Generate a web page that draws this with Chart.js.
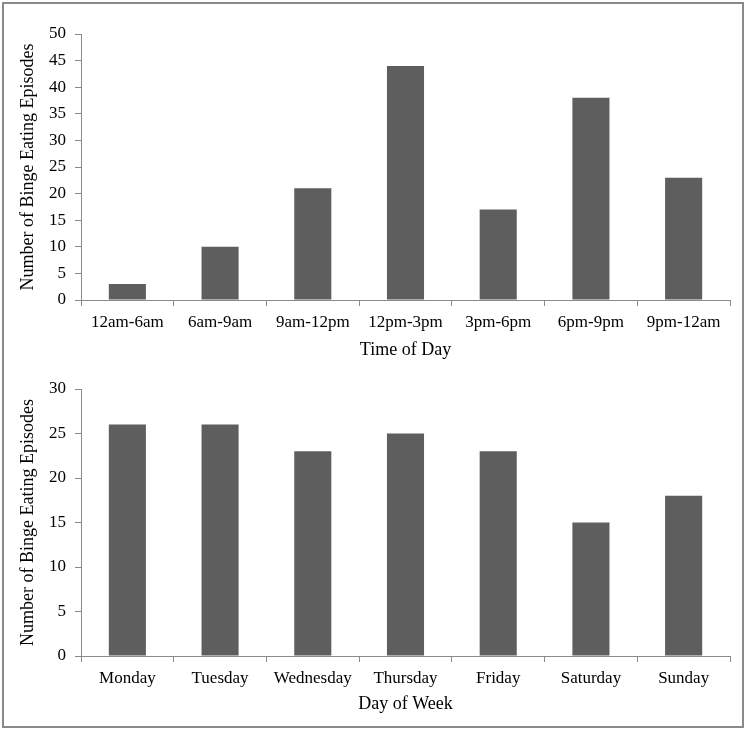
<!DOCTYPE html>
<html>
<head>
<meta charset="utf-8">
<script src="https://cdn.jsdelivr.net/npm/chart.js@4"></script>
<style>
  html, body { margin: 0; padding: 0; background: #fff; }
  body { width: 750px; height: 729px; position: relative; overflow: hidden; }
  #frame { position: absolute; left: 2px; top: 2px; width: 738px; height: 722px; border: 2px solid #8a8a8a; }
  canvas { position: absolute; left: 0; }
  #time-chart { top: 0; }
  #day-chart { top: 365px; }
</style>
</head>
<body>
<div id="frame"></div>
<canvas id="time-chart" width="750" height="365"></canvas>
<canvas id="day-chart" width="750" height="364"></canvas>
<script>
  var timeLabels = ['12am-6am', '6am-9am', '9am-12pm', '12pm-3pm', '3pm-6pm', '6pm-9pm', '9pm-12am'];
  var timeValues = [3, 10, 21, 44, 17, 38, 23];
  var timeTicks = { min: 0, max: 50, step: 5 };

  var dayLabels = ['Monday', 'Tuesday', 'Wednesday', 'Thursday', 'Friday', 'Saturday', 'Sunday'];
  var dayValues = [26, 26, 23, 25, 23, 15, 18];
  var dayTicks = { min: 0, max: 30, step: 5 };

  var yTitle = 'Number of Binge Eating Episodes';
  var axisGray = '#8a8a8a';
  var barGray = '#5e5e5e';
  var serif = 'Liberation Serif';

  function makeChart(id, labels, values, ticks, xTitle, pad, titleBottom) {
    var ctx = document.getElementById(id).getContext('2d');
    return new Chart(ctx, {
      type: 'bar',
      data: {
        labels: labels,
        datasets: [{
          data: values,
          backgroundColor: barGray,
          barPercentage: 0.4,
          categoryPercentage: 1.0
        }]
      },
      options: {
        responsive: false,
        animation: false,
        layout: { padding: pad },
        plugins: { legend: { display: false }, tooltip: { enabled: false } },
        scales: {
          x: {
            grid: { offset: true, drawOnChartArea: false, tickLength: 6, color: axisGray },
            border: { color: axisGray, width: 1 },
            ticks: { color: '#000', padding: 6, maxRotation: 0, font: { family: serif, size: 17 } },
            title: { display: true, text: xTitle, color: '#000', padding: { top: 0, bottom: titleBottom }, font: { family: serif, size: 18 } },
            afterFit: function (s) { s.height = 65; }
          },
          y: {
            min: ticks.min,
            max: ticks.max,
            grid: { drawOnChartArea: false, tickLength: 6, color: axisGray },
            border: { color: axisGray, width: 1 },
            ticks: { stepSize: ticks.step, color: '#000', padding: 9, font: { family: serif, size: 17 } },
            title: { display: true, text: yTitle, color: '#000', padding: { top: 17, bottom: 0 }, font: { family: serif, size: 18 } },
            afterFit: function (s) { s.width = 81; }
          }
        }
      }
    });
  }

  var timeChart = makeChart('time-chart', timeLabels, timeValues, timeTicks, 'Time of Day',
    { top: 34, right: 20, bottom: 0, left: 0 }, 4);
  var dayChart = makeChart('day-chart', dayLabels, dayValues, dayTicks, 'Day of Week',
    { top: 24, right: 20, bottom: 8, left: 0 }, 6);
</script>
</body>
</html>
